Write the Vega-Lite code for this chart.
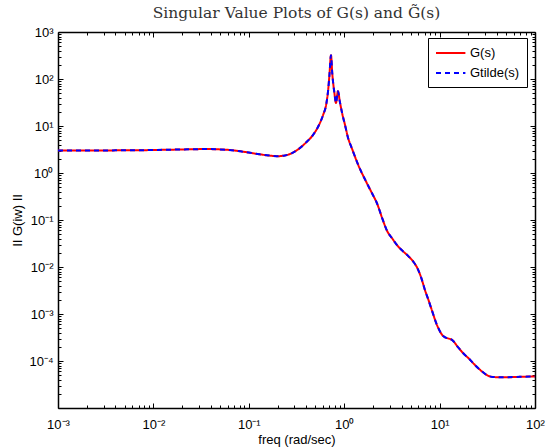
{
  "$schema": "https://vega.github.io/schema/vega-lite/v6.json",
  "width": 477,
  "height": 376,
  "autosize": "none",
  "padding": {"left": 58, "top": 32, "right": 11, "bottom": 39},
  "title": {"text": "Singular Value Plots of G(s) and G̃(s)", "font": "DejaVu Serif", "fontSize": 15.5, "fontWeight": "normal", "color": "#333333", "offset": 5, "anchor": "middle"},
  "data": {"values": [
    {"f": 0.001, "G(s)": 3.01, "Gtilde(s)": 3.01},
    {"f": 0.002, "G(s)": 3.01, "Gtilde(s)": 3.01},
    {"f": 0.004, "G(s)": 3.03, "Gtilde(s)": 3.03},
    {"f": 0.008, "G(s)": 3.06, "Gtilde(s)": 3.06},
    {"f": 0.015, "G(s)": 3.13, "Gtilde(s)": 3.13},
    {"f": 0.025, "G(s)": 3.2, "Gtilde(s)": 3.2},
    {"f": 0.035, "G(s)": 3.23, "Gtilde(s)": 3.23},
    {"f": 0.05, "G(s)": 3.18, "Gtilde(s)": 3.18},
    {"f": 0.07, "G(s)": 3.02, "Gtilde(s)": 3.02},
    {"f": 0.1, "G(s)": 2.72, "Gtilde(s)": 2.72},
    {"f": 0.13, "G(s)": 2.5, "Gtilde(s)": 2.5},
    {"f": 0.17, "G(s)": 2.33, "Gtilde(s)": 2.33},
    {"f": 0.2, "G(s)": 2.28, "Gtilde(s)": 2.28},
    {"f": 0.24, "G(s)": 2.36, "Gtilde(s)": 2.36},
    {"f": 0.28, "G(s)": 2.62, "Gtilde(s)": 2.62},
    {"f": 0.33, "G(s)": 3.2, "Gtilde(s)": 3.2},
    {"f": 0.4, "G(s)": 4.5, "Gtilde(s)": 4.5},
    {"f": 0.47, "G(s)": 6.4, "Gtilde(s)": 6.4},
    {"f": 0.55, "G(s)": 11, "Gtilde(s)": 11},
    {"f": 0.6, "G(s)": 17, "Gtilde(s)": 17},
    {"f": 0.65, "G(s)": 30, "Gtilde(s)": 30},
    {"f": 0.68, "G(s)": 60, "Gtilde(s)": 60},
    {"f": 0.7, "G(s)": 120, "Gtilde(s)": 120},
    {"f": 0.727, "G(s)": 320, "Gtilde(s)": 320},
    {"f": 0.75, "G(s)": 130, "Gtilde(s)": 130},
    {"f": 0.79, "G(s)": 50, "Gtilde(s)": 50},
    {"f": 0.82, "G(s)": 31, "Gtilde(s)": 31},
    {"f": 0.86, "G(s)": 55, "Gtilde(s)": 55},
    {"f": 0.9, "G(s)": 33, "Gtilde(s)": 33},
    {"f": 0.95, "G(s)": 19, "Gtilde(s)": 19},
    {"f": 1.02, "G(s)": 10.5, "Gtilde(s)": 10.5},
    {"f": 1.1, "G(s)": 5.5, "Gtilde(s)": 5.5},
    {"f": 1.2, "G(s)": 3.4, "Gtilde(s)": 3.4},
    {"f": 1.4, "G(s)": 1.5, "Gtilde(s)": 1.5},
    {"f": 1.7, "G(s)": 0.65, "Gtilde(s)": 0.65},
    {"f": 2.0, "G(s)": 0.34, "Gtilde(s)": 0.34},
    {"f": 2.2, "G(s)": 0.23, "Gtilde(s)": 0.23},
    {"f": 2.5, "G(s)": 0.11, "Gtilde(s)": 0.11},
    {"f": 2.8, "G(s)": 0.06, "Gtilde(s)": 0.06},
    {"f": 3.2, "G(s)": 0.04, "Gtilde(s)": 0.04},
    {"f": 3.7, "G(s)": 0.027, "Gtilde(s)": 0.027},
    {"f": 4.2, "G(s)": 0.021, "Gtilde(s)": 0.021},
    {"f": 4.7, "G(s)": 0.017, "Gtilde(s)": 0.017},
    {"f": 5.3, "G(s)": 0.013, "Gtilde(s)": 0.013},
    {"f": 5.8, "G(s)": 0.0098, "Gtilde(s)": 0.0098},
    {"f": 6.4, "G(s)": 0.006, "Gtilde(s)": 0.006},
    {"f": 7.0, "G(s)": 0.0033, "Gtilde(s)": 0.0033},
    {"f": 7.7, "G(s)": 0.0019, "Gtilde(s)": 0.0019},
    {"f": 8.3, "G(s)": 0.0012, "Gtilde(s)": 0.0012},
    {"f": 9.4, "G(s)": 0.00058, "Gtilde(s)": 0.00058},
    {"f": 10.9, "G(s)": 0.00034, "Gtilde(s)": 0.00034},
    {"f": 13.8, "G(s)": 0.00027, "Gtilde(s)": 0.00027},
    {"f": 15.5, "G(s)": 0.0002, "Gtilde(s)": 0.0002},
    {"f": 17.6, "G(s)": 0.000148, "Gtilde(s)": 0.000148},
    {"f": 20.5, "G(s)": 0.00011, "Gtilde(s)": 0.00011},
    {"f": 23.5, "G(s)": 0.000082, "Gtilde(s)": 0.000082},
    {"f": 27, "G(s)": 0.000063, "Gtilde(s)": 0.000063},
    {"f": 31.4, "G(s)": 0.00005, "Gtilde(s)": 0.00005},
    {"f": 36.3, "G(s)": 0.0000457, "Gtilde(s)": 0.0000457},
    {"f": 45, "G(s)": 0.000045, "Gtilde(s)": 0.000045},
    {"f": 60, "G(s)": 0.0000455, "Gtilde(s)": 0.0000455},
    {"f": 80, "G(s)": 0.0000465, "Gtilde(s)": 0.0000465},
    {"f": 100, "G(s)": 0.000047, "Gtilde(s)": 0.000047}
  ]},
  "transform": [{"fold": ["G(s)", "Gtilde(s)"], "as": ["series", "v"]}],
  "layer": [
    {
      "mark": {"type": "line", "strokeWidth": 2, "interpolate": "monotone", "clip": true},
      "encoding": {
        "x": {"field": "f", "type": "quantitative", "title": "freq (rad/sec)",
          "scale": {"type": "log", "domain": [0.001, 100], "nice": false},
          "axis": {"orient": "bottom",
            "values": [0.001,0.002,0.003,0.004,0.005,0.006,0.007,0.008,0.009,0.01,0.02,0.03,0.04,0.05,0.06,0.07,0.08,0.09,0.1,0.2,0.3,0.4,0.5,0.6,0.7,0.8,0.9,1,2,3,4,5,6,7,8,9,10,20,30,40,50,60,70,80,90,100],
            "labelExpr": "abs(log(datum.value)/LN10 - round(log(datum.value)/LN10)) < 0.001 ? '10' + ['⁻⁵','⁻⁴','⁻³','⁻²','⁻¹','⁰','¹','²','³'][round(log(datum.value)/LN10)+5] : ''",
            "tickSize": {"condition": {"test": "abs(log(datum.value)/LN10 - round(log(datum.value)/LN10)) < 0.001", "value": -5}, "value": -3},
            "labelPadding": 15, "titlePadding": 0}
        },
        "y": {"field": "v", "type": "quantitative", "title": "II G(iw) II",
          "scale": {"type": "log", "domain": [0.00001, 1000], "nice": false},
          "axis": {"orient": "left",
            "values": [0.00001,0.00002,0.00003,0.00004,0.00005,0.00006,0.00007,0.00008,0.00009,0.0001,0.0002,0.0003,0.0004,0.0005,0.0006,0.0007,0.0008,0.0009,0.001,0.002,0.003,0.004,0.005,0.006,0.007,0.008,0.009,0.01,0.02,0.03,0.04,0.05,0.06,0.07,0.08,0.09,0.1,0.2,0.3,0.4,0.5,0.6,0.7,0.8,0.9,1,2,3,4,5,6,7,8,9,10,20,30,40,50,60,70,80,90,100,200,300,400,500,600,700,800,900,1000],
            "labelExpr": "abs(log(datum.value)/LN10 - round(log(datum.value)/LN10)) < 0.001 && round(log(datum.value)/LN10) > -5 ? '10' + ['⁻⁵','⁻⁴','⁻³','⁻²','⁻¹','⁰','¹','²','³'][round(log(datum.value)/LN10)+5] : ''",
            "tickSize": {"condition": {"test": "abs(log(datum.value)/LN10 - round(log(datum.value)/LN10)) < 0.001", "value": -5}, "value": -3},
            "labelPadding": 10, "titlePadding": 4}
        },
        "color": {"field": "series", "type": "nominal",
          "scale": {"domain": ["G(s)", "Gtilde(s)"], "range": ["#ff0000", "#0000ff"]},
          "legend": {"title": null}},
        "strokeDash": {"field": "series", "type": "nominal",
          "scale": {"domain": ["G(s)", "Gtilde(s)"], "range": [[1, 0], [5, 4]]},
          "legend": {"title": null}}
      }
    },
    {
      "mark": {"type": "line", "opacity": 0},
      "encoding": {
        "x": {"field": "f", "type": "quantitative",
          "axis": {"orient": "top", "title": null, "labels": false,
            "values": [0.001,0.002,0.003,0.004,0.005,0.006,0.007,0.008,0.009,0.01,0.02,0.03,0.04,0.05,0.06,0.07,0.08,0.09,0.1,0.2,0.3,0.4,0.5,0.6,0.7,0.8,0.9,1,2,3,4,5,6,7,8,9,10,20,30,40,50,60,70,80,90,100],
            "tickSize": {"condition": {"test": "abs(log(datum.value)/LN10 - round(log(datum.value)/LN10)) < 0.001", "value": -5}, "value": -3}}
        },
        "y": {"field": "v", "type": "quantitative",
          "axis": {"orient": "right", "title": null, "labels": false,
            "values": [0.00001,0.00002,0.00003,0.00004,0.00005,0.00006,0.00007,0.00008,0.00009,0.0001,0.0002,0.0003,0.0004,0.0005,0.0006,0.0007,0.0008,0.0009,0.001,0.002,0.003,0.004,0.005,0.006,0.007,0.008,0.009,0.01,0.02,0.03,0.04,0.05,0.06,0.07,0.08,0.09,0.1,0.2,0.3,0.4,0.5,0.6,0.7,0.8,0.9,1,2,3,4,5,6,7,8,9,10,20,30,40,50,60,70,80,90,100,200,300,400,500,600,700,800,900,1000],
            "tickSize": {"condition": {"test": "abs(log(datum.value)/LN10 - round(log(datum.value)/LN10)) < 0.001", "value": -5}, "value": -3}}
        }
      }
    }
  ],
  "resolve": {"axis": {"x": "independent", "y": "independent"}},
  "config": {
    "view": {"stroke": null},
    "axis": {
      "domainColor": "#000000", "domainWidth": 1.5, "tickColor": "#000000", "tickWidth": 1,
      "grid": false, "labelFont": "Liberation Sans", "labelFontSize": 13, "labelColor": "#000000",
      "titleFont": "Liberation Sans", "titleFontSize": 13, "titleFontWeight": "normal", "titleColor": "#000000",
      "labelOverlap": false, "labelFlush": false
    },
    "legend": {
      "orient": "none", "legendX": 370, "legendY": 6,
      "strokeColor": "#000000", "fillColor": "#ffffff", "padding": 7,
      "symbolType": "M-1,0H3.2", "symbolSize": 196, "symbolStrokeWidth": 2,
      "labelFont": "Liberation Sans", "labelFontSize": 13, "labelColor": "#000000",
      "labelOffset": 19, "rowPadding": 5
    }
  }
}
